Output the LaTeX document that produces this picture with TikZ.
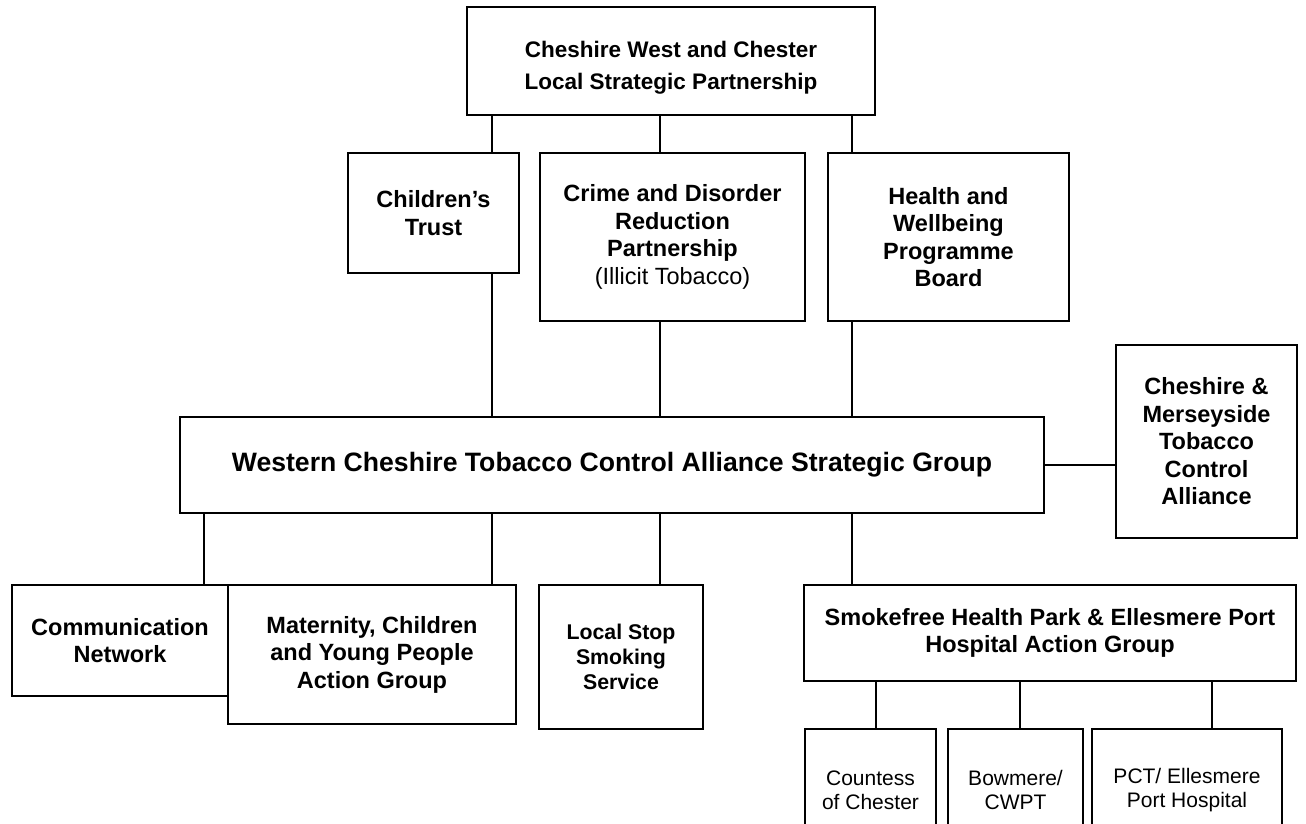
\documentclass[tikz,border=0pt]{standalone}
\usepackage{fontspec}
\setmainfont{Liberation Sans}
\usetikzlibrary{positioning, calc}
\tikzstyle{board} = [draw, line width=1.6pt, fill=white, align=center, inner sep=0pt, font=\bfseries\fontsize{23.5}{27.5}\selectfont]
\tikzstyle{site} = [board, font=\fontsize{21}{24}\selectfont]
\tikzstyle{link} = [line width=1.6pt]

\begin{document}
\begin{tikzpicture}[x=1pt, y=-1pt]
\useasboundingbox (0,0) rectangle (1306,823);
\clip (0,0) rectangle (1306,823);

% columns of the connectors
\coordinate (nx) at (204,0);
\coordinate (kx) at (492,0);
\coordinate (cx) at (660,0);
\coordinate (hx) at (852,0);
\coordinate (s1) at (876,0);
\coordinate (s2) at (1020,0);
\coordinate (s3) at (1212,0);

\node[board, minimum width=408, minimum height=108, font=\bfseries\fontsize{22.5}{32}\selectfont] (lsp) at (671,61) {\rule{0pt}{30pt}Cheshire West and Chester\\Local Strategic Partnership};

\node[board, minimum width=171, minimum height=120] (kids) at (433.5,213) {Children’s\\Trust};
\node[board, minimum width=265, minimum height=168] (crime) at (672.5,237) {Crime and Disorder\\Reduction\\Partnership\\{\mdseries (Illicit Tobacco)}};
\node[board, minimum width=241, minimum height=168] (health) at (948.5,237) {Health and\\Wellbeing\\Programme\\Board};

\node[board, minimum width=864, minimum height=96, font=\bfseries\fontsize{26.6}{30}\selectfont] (main) at (612,465) {Western Cheshire Tobacco Control Alliance Strategic Group};
\node[board, minimum width=181, minimum height=193] (cm) at (1206.5,441.5) {Cheshire \&\\Merseyside\\Tobacco\\Control\\Alliance};

\node[board, minimum width=216, minimum height=111] (comms) at (120,640.5) {Communication\\Network};
\node[board, minimum width=288, minimum height=139] (mcyp) at (372,654.5) {Maternity, Children\\and Young People\\Action Group};
\node[board, minimum width=164, minimum height=144, font=\bfseries\fontsize{21.3}{25}\selectfont] (stop) at (621,657) {Local Stop\\Smoking\\Service};
\node[board, minimum width=492, minimum height=96] (park) at (1050,633) {Smokefree Health Park \& Ellesmere Port\\Hospital Action Group};

\node[site, minimum width=131, minimum height=122] (coc) at (870.5,790) {Countess\\of Chester};
\node[site, minimum width=135, minimum height=122] (bow) at (1015.5,790) {Bowmere/\\CWPT};
\node[site, minimum width=190, minimum height=122] (pct) at (1187,790) {PCT/ Ellesmere\\Port Hospital};

% top level down to the boards
\draw[link] (lsp.south -| kx) -- (kids.north -| kx);
\draw[link] (lsp.south -| cx) -- (crime.north -| cx);
\draw[link] (lsp.south -| hx) -- (health.north -| hx);
% boards down to the alliance
\draw[link] (kids.south -| kx) -- (main.north -| kx);
\draw[link] (crime.south -| cx) -- (main.north -| cx);
\draw[link] (health.south -| hx) -- (main.north -| hx);
\draw[link] (main.east) -- (main.east -| cm.west);
% alliance down to the groups
\draw[link] (main.south -| nx) -- (comms.north -| nx);
\draw[link] (main.south -| kx) -- (mcyp.north -| kx);
\draw[link] (main.south -| cx) -- (stop.north -| cx);
\draw[link] (main.south -| hx) -- (park.north -| hx);
% hospital sites
\draw[link] (park.south -| s1) -- (coc.north -| s1);
\draw[link] (park.south -| s2) -- (bow.north -| s2);
\draw[link] (park.south -| s3) -- (pct.north -| s3);
\end{tikzpicture}
\end{document}
